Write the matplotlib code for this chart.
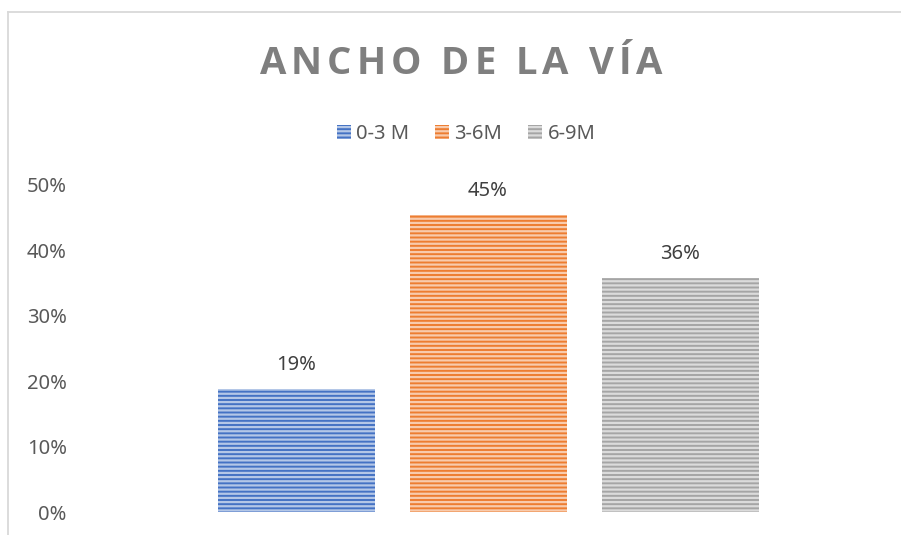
import matplotlib.pyplot as plt
from matplotlib.lines import Line2D

plt.rcParams['font.family'] = ['Noto Sans', 'DejaVu Sans']
plt.rcParams['hatch.linewidth'] = 1.6

# datos
series = ['0-3 M', '3-6M', '6-9M']
valores = [0.188, 0.454, 0.358]
etiquetas = ['19%', '45%', '36%']
colores = ['#4472C4', '#ED7D31', '#A5A5A5']
rayas = ['#B4C7E7', '#F8CBAD', '#DBDBDB']
yticks = [0, 0.1, 0.2, 0.3, 0.4, 0.5]
ytick_labels = ['0%', '10%', '20%', '30%', '40%', '50%']

W, H = 901, 535
fig = plt.figure(figsize=(W / 100, H / 100), dpi=100)

# marco del grafico
fig.add_artist(Line2D([8 / W, 8 / W], [0, 1 - 12 / H], color='#D9D9D9', lw=1.3))
fig.add_artist(Line2D([8 / W, 1], [1 - 12 / H, 1 - 12 / H], color='#D9D9D9', lw=1.3))

left, right = 75, 890
ax = fig.add_axes([left / W, (H - 512) / H, (right - left) / W, (512 - 185) / H])

x = [0, 1, 2]
ancho = 157 / 192
for i in range(3):
    ax.bar(x[i], valores[i], width=ancho, color=colores[i], edgecolor=rayas[i],
           linewidth=0, hatch='----', label=series[i])
    ax.text(x[i], valores[i] + 0.021, etiquetas[i], ha='center', va='bottom',
            fontsize=14.5, color='#404040')

ax.set_xlim((left - 296) / 192, (right - 296) / 192)
ax.set_ylim(0, 0.5)
ax.set_yticks(yticks)
ax.set_yticklabels(ytick_labels, fontsize=14.5, color='#595959')
ax.set_xticks([])
ax.tick_params(axis='y', length=0, pad=6)
for s in ax.spines.values():
    s.set_visible(False)

leg = fig.legend(loc='center', bbox_to_anchor=(466 / W, 1 - 134 / H), ncol=3,
                 frameon=False, fontsize=14.5, handlelength=0.7, handleheight=0.7,
                 handletextpad=0.25, columnspacing=1.3)
for t in leg.get_texts():
    t.set_color('#595959')

# titulo con espaciado entre letras
titulo = 'ANCHO DE LA VÍA'
fig.canvas.draw()
r = fig.canvas.get_renderer()
tam = 27.5
track = 5
fuente_titulo = ['Open Sans', 'DejaVu Sans']
anchos = []
for c in titulo:
    t = fig.text(0, 0, c, fontsize=tam, fontweight='bold', family=fuente_titulo)
    anchos.append(t.get_window_extent(r).width if c != ' ' else 10)
    t.remove()
total = sum(anchos) + track * (len(titulo) - 1)
xc = 461 - total / 2
for c, w in zip(titulo, anchos):
    fig.text(xc / W, 1 - 64 / H, c, fontsize=tam, fontweight='bold', family=fuente_titulo,
             color='#7F7F7F', va='center', ha='left')
    xc += w + track

fig.savefig('out.png', dpi=100)
